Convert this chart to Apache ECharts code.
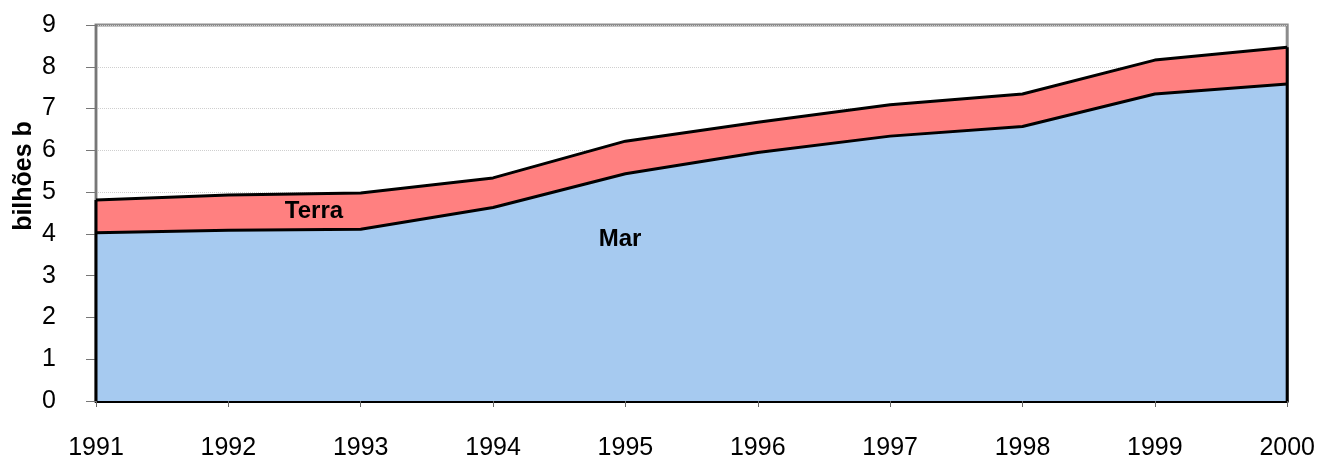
<!DOCTYPE html>
<html>
<head>
<meta charset="utf-8">
<script src="https://cdn.jsdelivr.net/npm/echarts@6/dist/echarts.min.js"></script>
<style>
html,body{margin:0;padding:0;background:#fff;}
#chart{width:1318px;height:463px;}
</style>
</head>
<body>
<div id="chart"></div>
<script>
var years = ['1991','1992','1993','1994','1995','1996','1997','1998','1999','2000'];
var mar   = [4.03, 4.09, 4.11, 4.63, 5.44, 5.95, 6.34, 6.57, 7.35, 7.59];
var terra = [0.78, 0.84, 0.87, 0.71, 0.78, 0.72, 0.75, 0.78, 0.81, 0.88];
var yTicks = [0,1,2,3,4,5,6,7,8,9];
var axisName = 'bilhões b';
var labelTerra = 'Terra';
var labelMar = 'Mar';

var total = mar.map(function(v,i){ return +(v + terra[i]).toFixed(3); });
var last = years.length - 1;

var chart = echarts.init(document.getElementById('chart'));
var font = '"Liberation Sans", Arial, sans-serif';
chart.setOption({
  animation: false,
  backgroundColor: '#fff',
  grid: { left: 96, right: 30, top: 25, bottom: 62, show: true, borderColor: '#8c8c8c', borderWidth: 3, backgroundColor: 'transparent' },
  xAxis: {
    type: 'category', data: years, boundaryGap: false,
    axisLine: { show: true, lineStyle: { color: '#000', width: 3 } },
    axisTick: { show: true, length: 6, lineStyle: { color: '#666', width: 1 } },
    axisLabel: { fontSize: 25, color: '#000', fontFamily: font, margin: 35 },
    splitLine: { show: false }
  },
  yAxis: {
    type: 'value', min: yTicks[0], max: yTicks[yTicks.length-1], interval: 1,
    axisLine: { show: true, lineStyle: { color: '#777', width: 2 } },
    axisTick: { show: true, length: 10, lineStyle: { color: '#777', width: 1 } },
    axisLabel: { fontSize: 25, color: '#000', fontFamily: font, margin: 40 },
    splitLine: { show: true, lineStyle: { color: '#cfcfcf', width: 1, type: 'dotted' } }
  },
  graphic: [
    { type: 'text', x: 24, y: 176, rotation: Math.PI/2,
      style: { text: axisName, font: 'bold 25px ' + font, fill: '#000', align: 'center', verticalAlign: 'middle' } },
    { type: 'text', x: 314, y: 211, z: 100,
      style: { text: labelTerra, font: 'bold 24px ' + font, fill: '#000', align: 'center', verticalAlign: 'middle' } },
    { type: 'text', x: 620, y: 239, z: 100,
      style: { text: labelMar, font: 'bold 24px ' + font, fill: '#000', align: 'center', verticalAlign: 'middle' } }
  ],
  series: [
    { name: 'Mar', type: 'line', stack: 'a', data: mar, symbol: 'none',
      lineStyle: { color: '#000', width: 3 }, areaStyle: { color: '#A6CAF0', opacity: 1 }, z: 2 },
    { name: 'Terra', type: 'line', stack: 'a', data: terra, symbol: 'none',
      lineStyle: { color: '#000', width: 3 }, areaStyle: { color: '#FF8080', opacity: 1 }, z: 2 },
    { name: 'edgeL', type: 'line', data: [[years[0], 0], [years[0], total[0]]], symbol: 'none',
      lineStyle: { color: '#000', width: 3 }, z: 3 },
    { name: 'edgeR', type: 'line', data: [[years[last], 0], [years[last], total[last]]], symbol: 'none',
      lineStyle: { color: '#000', width: 3 }, z: 3 }
  ]
});
</script>
</body>
</html>
